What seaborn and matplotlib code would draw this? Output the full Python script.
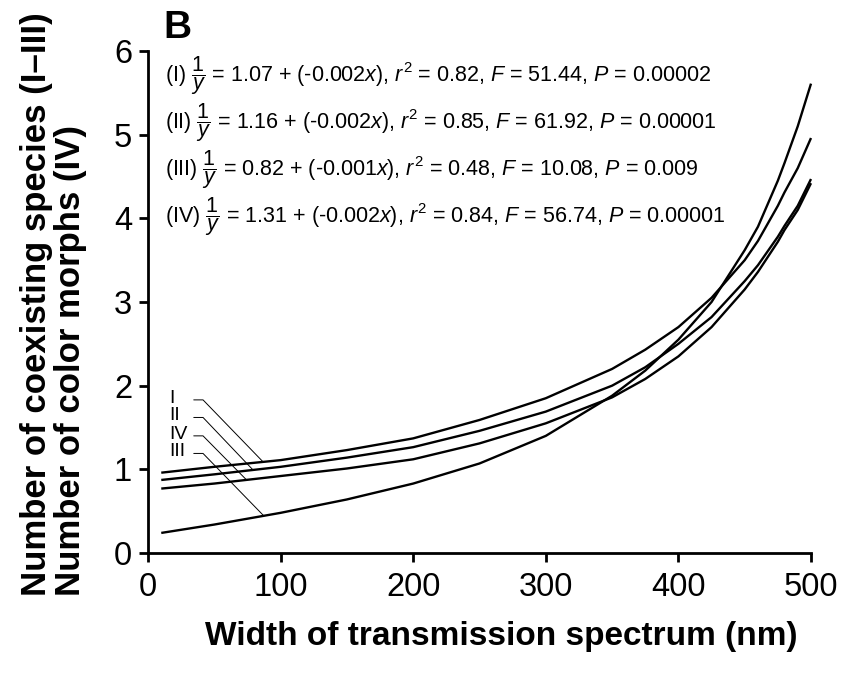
import numpy as np
import pandas as pd
import matplotlib
matplotlib.use("Agg")
import matplotlib.pyplot as plt
import seaborn as sns

# ---- data ----
x_nm = [10, 50, 100, 150, 200, 250, 300, 350, 375, 400, 425, 450, 460, 475, 480, 490, 500]
y_I = [0.96, 1.03, 1.11, 1.23, 1.37, 1.59, 1.85, 2.20, 2.43, 2.70, 3.05, 3.50, 3.73, 4.15, 4.31, 4.60, 4.96]
y_II = [0.873, 0.94, 1.03, 1.14, 1.265, 1.46, 1.69, 2.00, 2.22, 2.50, 2.82, 3.25, 3.44, 3.78, 3.91, 4.15, 4.47]
y_III = [0.24, 0.34, 0.48, 0.64, 0.83, 1.07, 1.40, 1.88, 2.18, 2.55, 3.00, 3.62, 3.90, 4.45, 4.66, 5.10, 5.61]
y_IV = [0.77, 0.83, 0.92, 1.01, 1.12, 1.31, 1.55, 1.86, 2.08, 2.35, 2.70, 3.15, 3.36, 3.72, 3.86, 4.10, 4.42]

series_names = ["I", "II", "III", "IV"]
x_ticks = [0, 100, 200, 300, 400, 500]
y_ticks = [0, 1, 2, 3, 4, 5, 6]

equations = [
    r"(I) $\dfrac{1}{y}$ = 1.07 + (-0.002$x$), $r^2$ = 0.82, $F$ = 51.44, $P$ = 0.00002",
    r"(II) $\dfrac{1}{y}$ = 1.16 + (-0.002$x$), $r^2$ = 0.85, $F$ = 61.92, $P$ = 0.00001",
    r"(III) $\dfrac{1}{y}$ = 0.82 + (-0.001$x$), $r^2$ = 0.48, $F$ = 10.08, $P$ = 0.009",
    r"(IV) $\dfrac{1}{y}$ = 1.31 + (-0.002$x$), $r^2$ = 0.84, $F$ = 56.74, $P$ = 0.00001",
]

# ---- build long table ----
frames = []
for name, ys in zip(series_names, [y_I, y_II, y_III, y_IV]):
    frames.append(pd.DataFrame({"x": x_nm, "y": ys, "series": name}))
df = pd.concat(frames, ignore_index=True)

sns.set_theme(style="ticks")
plt.rcParams["font.family"] = ["Liberation Sans", "DejaVu Sans"]
plt.rcParams["mathtext.fontset"] = "custom"
plt.rcParams["mathtext.rm"] = "Liberation Sans"
plt.rcParams["mathtext.it"] = "Liberation Sans:italic"
plt.rcParams["mathtext.bf"] = "Liberation Sans:bold"

fig = plt.figure(figsize=(8.64, 6.76), dpi=100)
ax = fig.add_axes([148 / 864, 123 / 676, 663 / 864, 502 / 676])

sns.lineplot(data=df, x="x", y="y", hue="series", units="series", estimator=None,
             palette={n: "black" for n in series_names}, linewidth=1.7,
             legend=False, ax=ax, sort=False)
for ln in ax.lines:
    ln.set_clip_on(False)
    ln.set_solid_capstyle("butt")
    ln.set_solid_joinstyle("round")

ax.set_xlim(0, 500)
ax.set_ylim(0, 6)
ax.set_xticks(x_ticks)
ax.set_yticks(y_ticks)
ax.set_xticklabels([str(t) for t in x_ticks])
ax.set_yticklabels([str(t) for t in y_ticks])
sns.despine(ax=ax)
for s in ["left", "bottom"]:
    ax.spines[s].set_linewidth(2.0)
    ax.spines[s].set_color("black")
ax.tick_params(axis="both", direction="out", length=6.5, width=2.0, colors="black",
               labelsize=23.5)
ax.tick_params(axis="x", pad=7)
ax.tick_params(axis="y", pad=5)
ax.set_xlabel("")
ax.set_ylabel("")

# axis titles
fig.text(0.58, 0.058, "Width of transmission spectrum (nm)",
         ha="center", va="center", fontsize=24, fontweight="bold", color="black")
fig.text(37 / 864, 0.118, "Number of coexisting species (I\u2013III)", rotation=90,
         ha="center", va="bottom", fontsize=25, fontweight="bold", color="black")
fig.text(71 / 864, 0.118, "Number of color morphs (IV)", rotation=90,
         ha="center", va="bottom", fontsize=25, fontweight="bold", color="black")

# panel letter
fig.text(163 / 864, 1 - 38 / 676, "B", ha="left", va="baseline", fontsize=28,
         fontweight="bold", color="black")

# equations
eq_y = [5.71, 5.14, 4.58, 4.02]
for txt, yy in zip(equations, eq_y):
    ax.text(12.6, yy, txt, ha="left", va="center", fontsize=15.5, color="black")

# curve labels with leader lines
label_y = {"I": 1.83, "II": 1.62, "IV": 1.40, "III": 1.19}
target_x = {"I": 86.8, "II": 79.2, "IV": 74.3, "III": 87.3}
series_map = {"I": y_I, "II": y_II, "III": y_III, "IV": y_IV}
for name in ["I", "II", "IV", "III"]:
    ly = label_y[name]
    ax.text(16, ly + 0.02, name, ha="left", va="center", fontsize=14, color="black")
    tx = target_x[name]
    ty = float(np.interp(tx, x_nm, series_map[name]))
    ax.plot([34.5, 41.5, tx], [ly, ly, ty], color="black", linewidth=0.7)

fig.savefig("out.png", dpi=100)
